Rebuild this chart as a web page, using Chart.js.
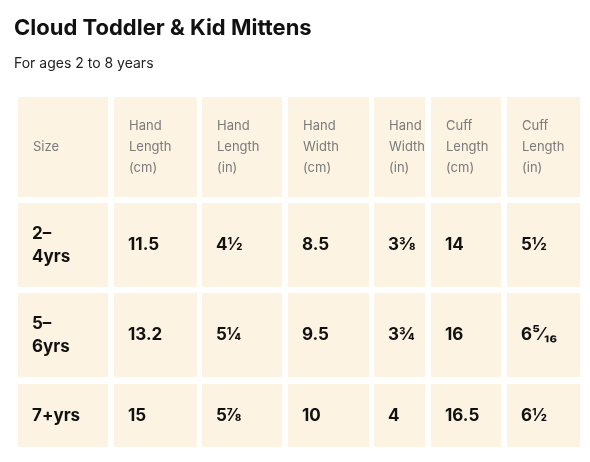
<!DOCTYPE html>
<html><head><meta charset="utf-8">
<script src="https://cdn.jsdelivr.net/npm/chart.js@4"></script>
<style>body{margin:0;background:#fff}canvas{display:block}</style>
</head><body>
<canvas id="c" width="590" height="462"></canvas>
<script>
const title = "Cloud Toddler & Kid Mittens";
const subtitle = "For ages 2 to 8 years";
const headers = [["Size"], ["Hand", "Length", "(cm)"], ["Hand", "Length", "(in)"], ["Hand", "Width", "(cm)"],
  ["Hand", "Width", "(in)"], ["Cuff", "Length", "(cm)"], ["Cuff", "Length", "(in)"]];
const sizes = [["2–", "4yrs"], ["5–", "6yrs"], ["7+yrs"]];
const handLengthCm = ["11.5", "13.2", "15"];
const handLengthIn = ["4½", "5¼", "5⅞"];
const handWidthCm = ["8.5", "9.5", "10"];
const handWidthIn = ["3⅜", "3¾", "4"];
const cuffLengthCm = ["14", "16", "16.5"];
const cuffLengthIn = ["5½", "6⁵⁄₁₆", "6½"];

// layout of the grid (left/right edges of columns, top/bottom of rows)
const colEdges = [[18, 108], [114, 197], [202, 282], [288, 369], [374, 425], [431, 501], [507, 580]];
const rowEdges = [[97, 197], [203, 287], [293, 377], [384, 447]];

const tablePlugin = {
  id: 'table',
  beforeDraw(chart) {
    const ctx = chart.ctx, x = chart.scales.x, y = chart.scales.y;
    const body = sizes.map((s, i) => [s, [handLengthCm[i]], [handLengthIn[i]], [handWidthCm[i]],
      [handWidthIn[i]], [cuffLengthCm[i]], [cuffLengthIn[i]]]);
    const rows = [headers].concat(body);
    ctx.save();
    ctx.fillStyle = '#fff';
    ctx.fillRect(0, 0, chart.width, chart.height);
    ctx.fillStyle = '#111';
    ctx.textBaseline = 'middle';
    ctx.font = 'bold 22px Inter, "Liberation Sans", sans-serif';
    ctx.fillText(title, x.getPixelForValue(14), y.getPixelForValue(28));
    ctx.fillStyle = '#222';
    ctx.font = '14px Inter, "Liberation Sans", sans-serif';
    ctx.fillText(subtitle, x.getPixelForValue(14), y.getPixelForValue(64));
    rows.forEach((row, r) => {
      const top = y.getPixelForValue(rowEdges[r][0]), bot = y.getPixelForValue(rowEdges[r][1]);
      row.forEach((lines, c) => {
        const l = x.getPixelForValue(colEdges[c][0]), rr = x.getPixelForValue(colEdges[c][1]);
        ctx.fillStyle = '#fcf3e3';
        ctx.fillRect(l, top, rr - l, bot - top);
        const lh = r === 0 ? 21 : 23;
        ctx.fillStyle = r === 0 ? '#7a7a7a' : '#111';
        ctx.font = r === 0 ? '13px Inter, "Liberation Sans", sans-serif' : 'bold 17px Inter, "Liberation Sans", sans-serif';
        const mid = (top + bot) / 2;
        lines.forEach((t, k) => {
          ctx.fillText(t, l + (r === 0 ? 15 : 14), mid + (k - (lines.length - 1) / 2) * lh);
        });
      });
    });
    ctx.restore();
  }
};

new Chart(document.getElementById('c'), {
  type: 'scatter',
  data: { datasets: [{ data: [] }] },
  options: {
    responsive: false, animation: false,
    layout: { padding: 0 },
    plugins: { legend: { display: false }, tooltip: { enabled: false } },
    scales: {
      x: { type: 'linear', min: 0, max: 590, display: false },
      y: { type: 'linear', min: 0, max: 462, reverse: true, display: false }
    }
  },
  plugins: [tablePlugin]
});
</script>
</body></html>
